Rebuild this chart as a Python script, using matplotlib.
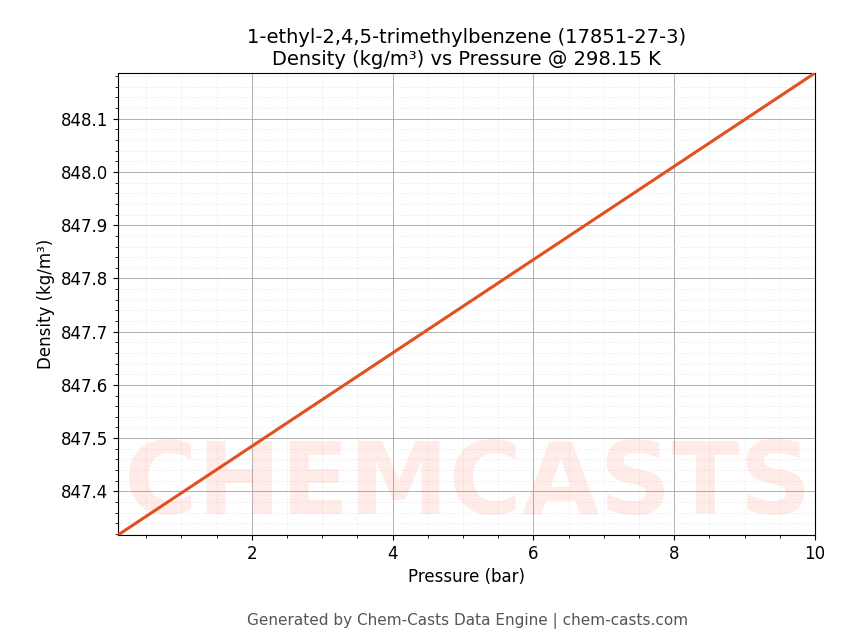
import matplotlib
matplotlib.use("Agg")
import matplotlib.pyplot as plt
from matplotlib.ticker import AutoMinorLocator

pressure = [0.1, 10.0]
density = [847.318, 848.186]

fig = plt.figure(figsize=(8.43, 6.44), dpi=100)
ax = fig.add_axes([118/843, 1-535/644, (815-118)/843, (535-73)/644])
fig.text(0.555, 0.245, "CHEMCASTS", ha="center", va="center", fontsize=72,
         fontweight="bold", color="#ff3b1f", alpha=0.1, zorder=0)
ax.plot(pressure, density, color="#e05020", lw=2.2, zorder=3)
ax.set_xlim(0.1, 10)
ax.set_ylim(847.318, 848.186)
ax.xaxis.set_minor_locator(AutoMinorLocator(4))
ax.yaxis.set_minor_locator(AutoMinorLocator(5))
ax.grid(True, which="major", color="#b0b0b0", lw=0.7)
ax.grid(True, which="minor", color="#e0e0e0", lw=0.5, ls=":")
ax.set_facecolor("none")
ax.tick_params(labelsize=12)
ax.set_xlabel("Pressure (bar)", fontsize=12)
ax.set_ylabel("Density (kg/m³)", fontsize=12)
ax.set_title("1-ethyl-2,4,5-trimethylbenzene (17851-27-3)\nDensity (kg/m³) vs Pressure @ 298.15 K", fontsize=14)
fig.text(0.555, 0.030, "Generated by Chem-Casts Data Engine | chem-casts.com",
         ha="center", fontsize=11, color="#555555")
fig.savefig("out.png", dpi=100)
